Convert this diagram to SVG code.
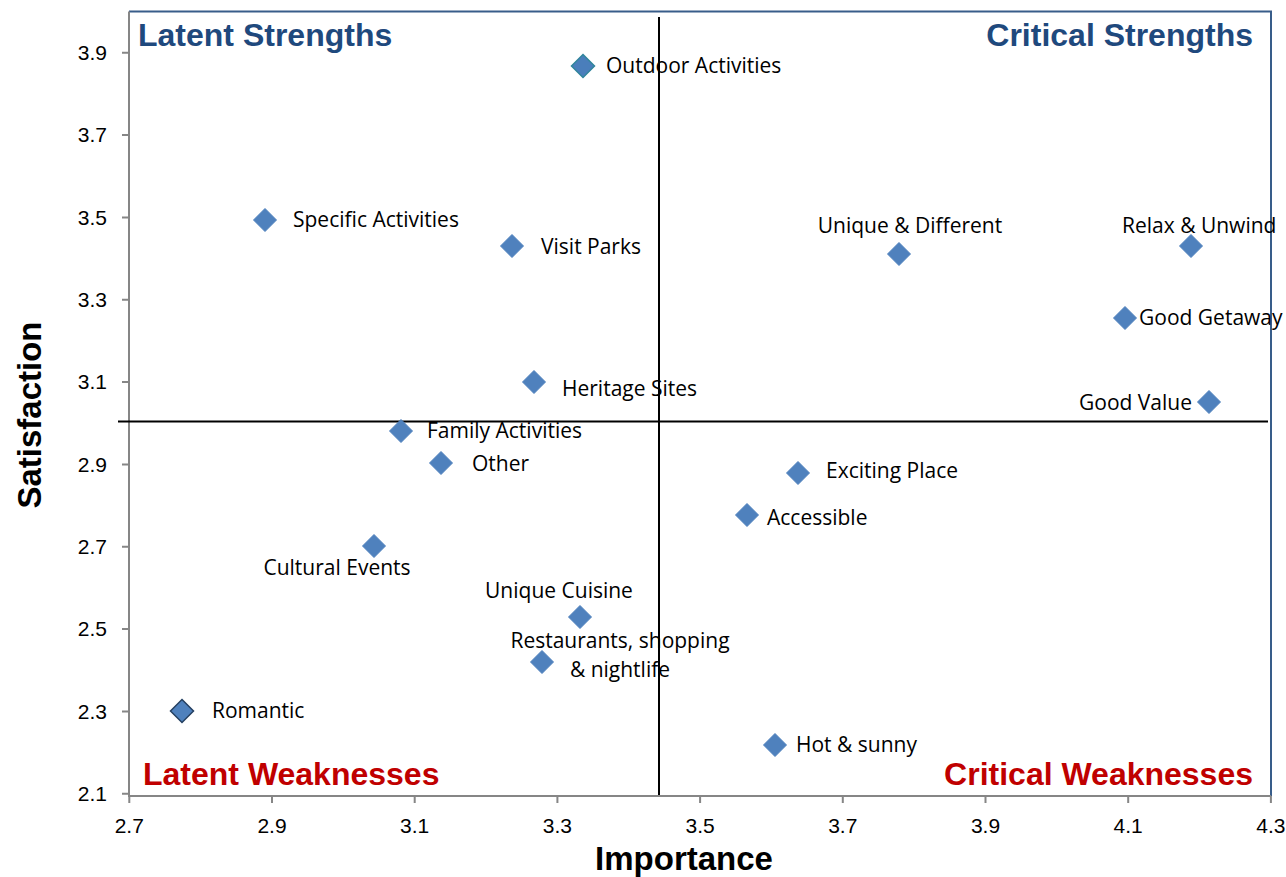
<svg xmlns="http://www.w3.org/2000/svg" width="1286" height="877" viewBox="0 0 1286 877">
<style>
text{font-family:"Liberation Sans",Arial,sans-serif;fill:#000}
.lbl{font-family:"Open Sans","Liberation Sans",sans-serif;font-size:21px}
.tick{font-family:"Open Sans","Liberation Sans",sans-serif;font-size:21px}
.ax{font-size:33px;font-weight:bold}
.qs{font-size:32px;font-weight:bold;fill:#1F497D}
.qw{font-size:32px;font-weight:bold;fill:#C00000}
.pt{fill:#4F81BD;stroke:#4F81BD;stroke-width:1}
.grid{stroke:#000;stroke-width:2;fill:none}
.axis{stroke:#868686;stroke-width:2;fill:none}
.frame{stroke:#385D8A;stroke-width:2;fill:none}
</style>
<defs>
<path id="d" d="M0,-11.5 L11.5,0 L0,11.5 L-11.5,0 Z"/>
</defs>
<rect width="1286" height="877" fill="#fff"/>
<g id="axes">
<path class="frame" d="M129,11.5 H1271 V796"/>
<path class="axis" d="M129,11.5 V796 H1271"/>
<path class="axis" d="M122,52.7 H129 M122,135 H129 M122,217.4 H129 M122,299.7 H129 M122,382.1 H129 M122,464.4 H129 M122,546.8 H129 M122,629.1 H129 M122,711.5 H129 M122,793.8 H129"/>
<path class="axis" d="M129.3,796 V803 M272,796 V803 M414.7,796 V803 M557.4,796 V803 M700.1,796 V803 M842.8,796 V803 M985.5,796 V803 M1128.2,796 V803 M1270.9,796 V803"/>
<g class="tick" text-anchor="end">
<text x="107" y="60">3.9</text>
<text x="107" y="142">3.7</text>
<text x="107" y="225">3.5</text>
<text x="107" y="307">3.3</text>
<text x="107" y="389">3.1</text>
<text x="107" y="472">2.9</text>
<text x="107" y="554">2.7</text>
<text x="107" y="636">2.5</text>
<text x="107" y="719">2.3</text>
<text x="107" y="801">2.1</text>
</g>
<g class="tick" text-anchor="middle">
<text x="129.3" y="833">2.7</text>
<text x="272" y="833">2.9</text>
<text x="414.7" y="833">3.1</text>
<text x="557.4" y="833">3.3</text>
<text x="700.1" y="833">3.5</text>
<text x="842.8" y="833">3.7</text>
<text x="985.5" y="833">3.9</text>
<text x="1128.2" y="833">4.1</text>
<text x="1270.9" y="833">4.3</text>
</g>
<text class="ax" text-anchor="middle" x="684" y="870">Importance</text>
<text class="ax" text-anchor="middle" transform="translate(41,415) rotate(-90)">Satisfaction</text>
</g>
<g id="connectors">
<line class="grid" x1="659" y1="17" x2="659" y2="795"/>
<line class="grid" x1="118" y1="421.5" x2="1268" y2="421.5"/>
</g>
<g id="quadrants">
<text class="qs" x="138" y="46">Latent Strengths</text>
<text class="qs" x="1253" y="46" text-anchor="end">Critical Strengths</text>
<text class="qw" x="143" y="785">Latent Weaknesses</text>
<text class="qw" x="1253" y="785" text-anchor="end">Critical Weaknesses</text>
</g>
<g id="outdoor-activities"><use href="#d" x="583" y="66" style="fill:#4A7EBB;stroke:#31859C;stroke-width:1.5"/><text class="lbl" x="606" y="73">Outdoor Activities</text></g>
<g id="specific-activities"><use href="#d" class="pt" x="265" y="220"/><text class="lbl" x="293" y="227">Specific Activities</text></g>
<g id="visit-parks"><use href="#d" class="pt" x="512" y="246"/><text class="lbl" x="541" y="254">Visit Parks</text></g>
<g id="unique-different"><use href="#d" class="pt" x="899" y="254"/><text class="lbl" x="910" y="233" text-anchor="middle">Unique &amp; Different</text></g>
<g id="relax-unwind"><use href="#d" class="pt" x="1191" y="246"/><text class="lbl" x="1122" y="233">Relax &amp; Unwind</text></g>
<g id="good-getaway"><use href="#d" class="pt" x="1125" y="318"/><text class="lbl" x="1139" y="325">Good Getaway</text></g>
<g id="heritage-sites"><use href="#d" class="pt" x="534" y="382"/><text class="lbl" x="562" y="396">Heritage Sites</text></g>
<g id="good-value"><use href="#d" class="pt" x="1209" y="402"/><text class="lbl" x="1192" y="410" text-anchor="end">Good Value</text></g>
<g id="family-activities"><use href="#d" class="pt" x="401" y="431"/><text class="lbl" x="427" y="438">Family Activities</text></g>
<g id="other"><use href="#d" class="pt" x="441" y="463"/><text class="lbl" x="472" y="471">Other</text></g>
<g id="exciting-place"><use href="#d" class="pt" x="798" y="473"/><text class="lbl" x="826" y="478">Exciting Place</text></g>
<g id="accessible"><use href="#d" class="pt" x="747" y="515"/><text class="lbl" x="767" y="525">Accessible</text></g>
<g id="cultural-events"><use href="#d" class="pt" x="374" y="546"/><text class="lbl" x="337" y="575" text-anchor="middle">Cultural Events</text></g>
<g id="unique-cuisine"><use href="#d" class="pt" x="580" y="617"/><text class="lbl" x="559" y="598" text-anchor="middle">Unique Cuisine</text></g>
<g id="restaurants"><use href="#d" class="pt" x="542" y="662"/><text class="lbl" text-anchor="middle"><tspan x="620" y="648">Restaurants, shopping</tspan><tspan x="620" y="677">&amp; nightlife</tspan></text></g>
<g id="romantic"><use href="#d" x="182" y="711" style="fill:#4F81BD;stroke:#254061;stroke-width:1.5"/><text class="lbl" x="212" y="718">Romantic</text></g>
<g id="hot-sunny"><use href="#d" class="pt" x="775" y="745"/><text class="lbl" x="796" y="752">Hot &amp; sunny</text></g>
</svg>
